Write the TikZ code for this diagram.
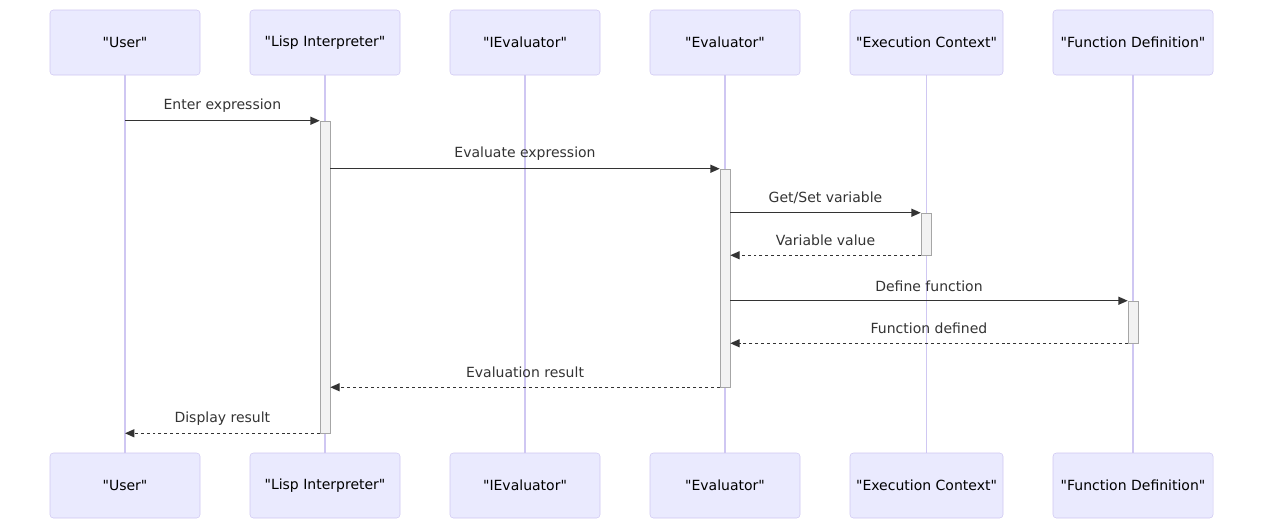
\documentclass[tikz,border=0pt]{standalone}
\usepackage{fontspec}
\setmainfont{DejaVu Sans}[Ligatures=TeXOff]
\usetikzlibrary{arrows.meta}
\definecolor{actfill}{HTML}{EAEAFE}
\definecolor{actline}{HTML}{CFC7F2}
\definecolor{inkgray}{HTML}{333333}

\begin{document}
\begin{tikzpicture}[x=0.75pt, y=-0.75pt, font=\fontsize{10.5}{12}\selectfont]
\tikzstyle{actor}=[draw=actline, fill=actfill, rounded corners=2.5pt, minimum width=112.5pt, minimum height=48.75pt, text=black, inner sep=0pt];
\tikzstyle{life}=[draw=actline, line width=0.9pt];
\tikzstyle{act}=[draw=black!35, fill=black!5, minimum width=7.5pt, inner sep=0pt];
\tikzstyle{msg}=[draw=inkgray, line width=0.9pt, -{Triangle[length=7pt, width=6pt]}];
\tikzstyle{reply}=[msg, dash pattern=on 2.2pt off 2.2pt];
\tikzstyle{lbl}=[midway, yshift=11pt, text=inkgray, inner sep=0pt];
\useasboundingbox (0,0) rectangle (1263,529);
\path (125,42.5) node[actor] (user) {"User"};
\path (325,42.5) node[actor] (lisp) {"Lisp Interpreter"};
\path (525,42.5) node[actor] (ieval) {"IEvaluator"};
\path (725,42.5) node[actor] (eval) {"Evaluator"};
\path (926.5,42.5) node[actor, minimum width=114.75pt] (ctx) {"Execution Context"};
\path (1133,42.5) node[actor, minimum width=120pt] (fdef) {"Function Definition"};
\path (125,485.5) node[actor] (user2) {"User"};
\path (325,485.5) node[actor] (lisp2) {"Lisp Interpreter"};
\path (525,485.5) node[actor] (ieval2) {"IEvaluator"};
\path (725,485.5) node[actor] (eval2) {"Evaluator"};
\path (926.5,485.5) node[actor, minimum width=114.75pt] (ctx2) {"Execution Context"};
\path (1133,485.5) node[actor, minimum width=120pt] (fdef2) {"Function Definition"};
\draw[life]
(user) -- (user2) (lisp) -- (lisp2) (ieval) -- (ieval2)
(eval) -- (eval2) (ctx) -- (ctx2) (fdef) -- (fdef2)
;
% activations
\path (325,277) node[act, minimum height=234pt] (a1) {};
\path (725,278) node[act, minimum height=163.5pt] (a2) {};
\path (926,234) node[act, minimum height=31.5pt] (a3) {};
\path (1133,322) node[act, minimum height=31.5pt] (a4) {};
% messages
\draw[msg] (user |- a1.north) -- (a1.north west) node[lbl] {Enter expression};
\draw[msg] (a1.east |- a2.north) -- (a2.north west) node[lbl] {Evaluate expression};
\draw[msg] (a2.east |- a3.north) -- (a3.north west) node[lbl] {Get/Set variable};
\draw[reply] (a3.south west) -- (a2.east |- a3.south) node[lbl] {Variable value};
\draw[msg] (a2.east |- a4.north) -- (a4.north west) node[lbl] {Define function};
\draw[reply] (a4.south west) -- (a2.east |- a4.south) node[lbl] {Function defined};
\draw[reply] (a2.south west) -- (a1.east |- a2.south) node[lbl] {Evaluation result};
\draw[reply] (a1.south west) -- (user |- a1.south) node[lbl] {Display result};
\end{tikzpicture}
\end{document}
